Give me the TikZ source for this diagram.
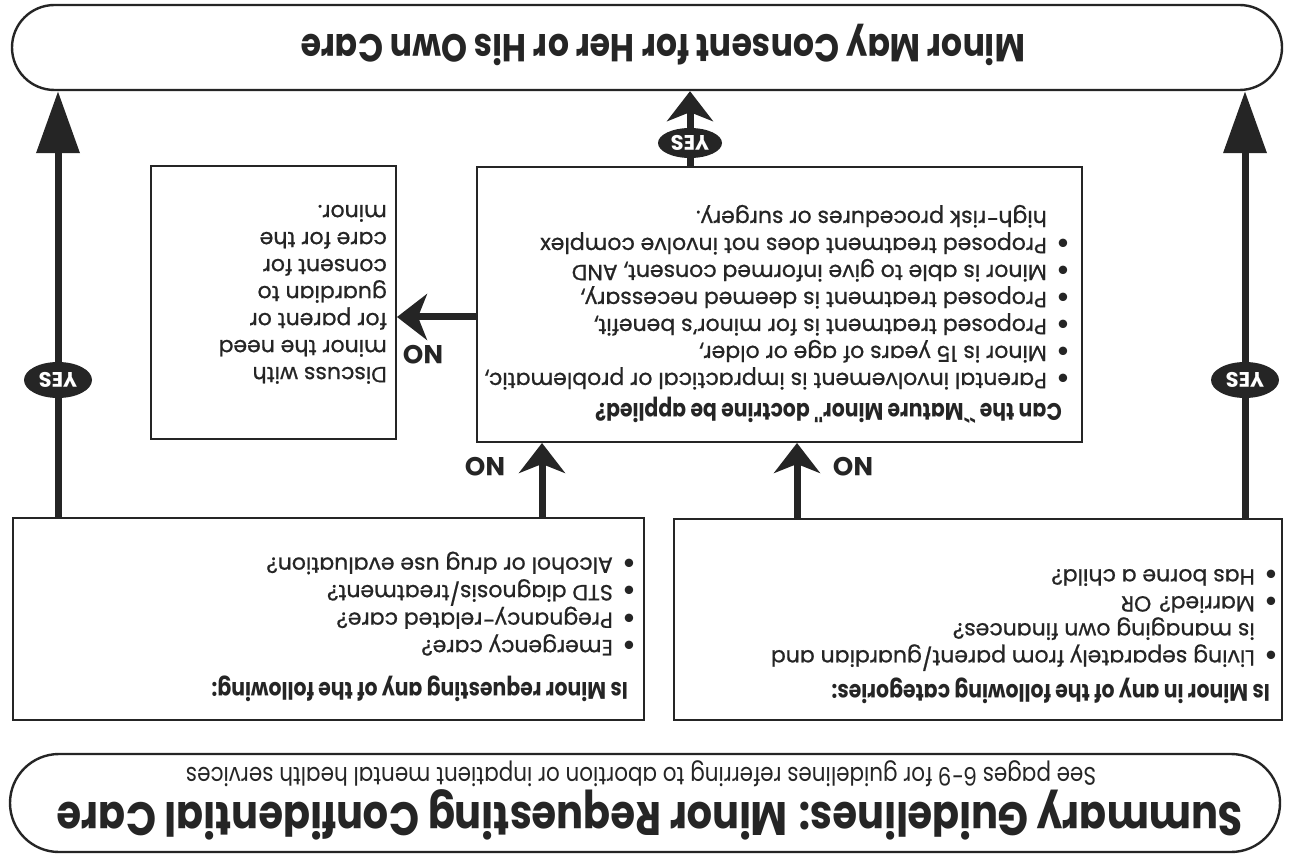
\documentclass[tikz,border=0pt]{standalone}
\usepackage{fontspec}
\setmainfont{Poppins}[UprightFeatures={FakeBold=0.8}]
\newfontfamily\titlefont[FakeStretch=0.85]{Poppins}
\newfontfamily\dotfont{DejaVu Sans}
\usetikzlibrary{arrows.meta,shapes.geometric,shapes.misc}
\definecolor{ink}{HTML}{252525}
\newcommand{\bl}[1]{\makebox[21pt][l]{\raisebox{2.5pt}{\dotfont\fontsize{11}{11}\selectfont ●}}#1}
\newcommand{\ind}{\hspace*{21pt}}
\newcommand{\hd}[1]{\hspace*{6pt}{\titlefont\bfseries\fontsize{24}{27}\selectfont #1}}
\begin{document}
\begin{tikzpicture}[x=1pt,y=1pt,
  box/.style={draw=ink, line width=2.4pt, inner sep=0pt, anchor=north west},
  pill/.style={draw=ink, line width=2.4pt, rounded rectangle, inner sep=0pt},
  txt/.style={anchor=north west, inner sep=0pt, align=left, text=ink, font=\fontsize{22}{27}\selectfont},
  bigarr/.style={draw=ink, line width=7pt, -{Triangle[length=62pt,width=42pt]}},
  midarr/.style={draw=ink, line width=7pt, -{Stealth[length=30pt,width=46pt,inset=9pt]}},
  yes/.style={ellipse, fill=ink, text=white, font=\fontsize{21}{21}\selectfont\bfseries, inner sep=0pt, minimum width=68pt, minimum height=36pt},
  nolab/.style={text=ink, font=\fontsize{26}{26}\selectfont\bfseries, inner sep=0pt}]
\useasboundingbox[fill=white] (0,0) rectangle (1290,-858);
\begin{scope}[rotate around={180:(645,-429)}, transform shape]
  % pills
  \node[pill, minimum width=1270pt, minimum height=98pt] (summary) at (645,-55) {};
  \node[text=ink, inner sep=0pt, font=\titlefont\fontsize{47}{47}\selectfont\bfseries] (title) at (640,-43)
    {Summary Guidelines: Minor Requesting Confidential Care};
  \node[text=ink, inner sep=0pt, font=\titlefont\fontsize{25.3}{25}\selectfont] (sub) at (649,-84)
    {See pages 6-9 for guidelines referring to abortion or inpatient mental health services};
  \node[pill, minimum width=1270pt, minimum height=85pt] (minor) at (643,-810.5) {};
  \node[text=ink, inner sep=0pt, font=\titlefont\fontsize{39}{39}\selectfont\bfseries] (minortxt) at (627,-813.5)
    {Minor May Consent for Her or His Own Care};
  % boxes
  \node[box, minimum width=631pt, minimum height=202pt] (req) at (645,-137) {};
  \node[box, minimum width=608pt, minimum height=201pt] (cat) at (7,-137) {};
  \node[box, minimum width=605pt, minimum height=275pt] (mid) at (207,-415) {};
  \node[box, minimum width=245pt, minimum height=273pt] (small) at (893,-418) {};
  % texts
  \node[txt, font=\fontsize{22}{27.5}\selectfont] (reqtxt) at (656,-156) {\hd{Is Minor requesting any of the following:}\\[15pt]
    \bl{Emergency care?}\\ \bl{Pregnancy-related care?}\\ \bl{STD diagnosis/treatment?}\\ \bl{Alcohol or drug use evaluation?}};
  \node[txt] (cattxt) at (14,-154) {\hd{Is Minor in any of the following categories:}\\[6pt]
    \bl{Living separately from parent/guardian and}\\ \ind is managing own finances?\\ \bl{Married? OR}\\ \bl{Has borne a child?}};
  \node[txt] (midtxt) at (222,-434) {\hd{Can the ``Mature Minor'' doctrine be applied?}\\[4pt]
    \bl{Parental involvement is impractical or problematic,}\\
    \bl{Minor is 15 years of age or older,}\\
    \bl{Proposed treatment is for minor's benefit,}\\
    \bl{Proposed treatment is deemed necessary,}\\
    \bl{Minor is able to give informed consent, AND}\\
    \bl{Proposed treatment does not involve complex}\\
    \ind high-risk procedures or surgery.};
  \node[txt] (smalltxt) at (903,-474) {Discuss with\\ minor the need\\ for parent or\\ guardian to\\ consent for\\ care for the\\ minor.};
  % connector x/y positions
  \coordinate (xA) at (1232,0);
  \coordinate (xB) at (45,0);
  \coordinate (xC) at (600,0);
  \coordinate (xD) at (748,0);
  \coordinate (xE) at (493,0);
  \coordinate (yF) at (0,-541);
  \draw[bigarr] (req.south -| xA) -- (minor.north -| xA);
  \draw[bigarr] (cat.south -| xB) -- (minor.north -| xB);
  \draw[midarr] (mid.south -| xC) -- (minor.north -| xC);
  \draw[midarr] (req.south -| xD) -- (mid.north -| xD);
  \draw[midarr] (cat.south -| xE) -- (mid.north -| xE);
  \draw[midarr] (mid.east |- yF) -- (small.west |- yF);
  \node[yes] (yesA) at (1232,-478) {YES};
  \node[yes] (yesB) at (45,-478) {YES};
  \node[yes, minimum width=64pt, minimum height=30pt] (yesC) at (600,-715) {YES};
  \node[nolab] (noD) at (805,-391) {NO};
  \node[nolab] (noE) at (437,-391) {NO};
  \node[nolab] (noF) at (867,-503) {NO};
\end{scope}
\end{tikzpicture}
\end{document}
